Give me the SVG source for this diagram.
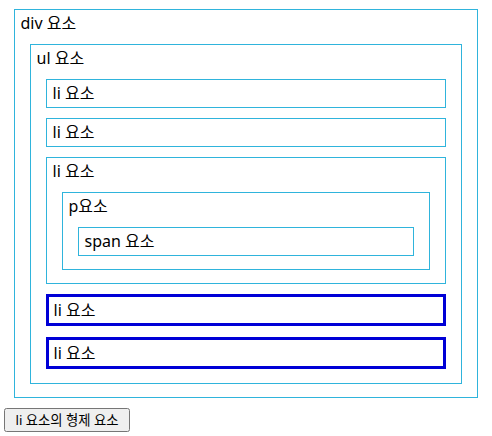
<svg xmlns="http://www.w3.org/2000/svg" width="492" height="436" viewBox="0 0 492 436">
<style>
.box{fill:none;stroke:#2fb4dc;stroke-width:1}
.sel{fill:none;stroke:#0000d6;stroke-width:3}
text{font-family:"Noto Sans","Noto Sans CJK KR",sans-serif;font-size:16px;fill:#000}
.btn{font-size:13.33px}
</style>
<rect width="492" height="436" fill="#fff"/>
<g id="div"><rect class="box" x="14.5" y="9.5" width="463" height="388"/><text x="20.5" y="29">div 요소</text></g>
<g id="ul"><rect class="box" x="30.5" y="44.5" width="431" height="339"/><text x="36.5" y="64">ul 요소</text></g>
<g id="li1"><rect class="box" x="46.5" y="79.5" width="399" height="28"/><text x="52.5" y="99">li 요소</text></g>
<g id="li2"><rect class="box" x="46.5" y="118.5" width="399" height="28"/><text x="52.5" y="138">li 요소</text></g>
<g id="li3"><rect class="box" x="46.5" y="157.5" width="399" height="126"/><text x="52.5" y="177">li 요소</text></g>
<g id="p"><rect class="box" x="62.5" y="192.5" width="367" height="77"/><text x="68.5" y="212">p요소</text></g>
<g id="span"><rect class="box" x="78.5" y="227.5" width="335" height="28"/><text x="84.5" y="247">span 요소</text></g>
<g id="li4"><rect class="sel" x="47.5" y="295.5" width="397" height="29"/><text x="53.5" y="316">li 요소</text></g>
<g id="li5"><rect class="sel" x="47.5" y="338.5" width="397" height="29"/><text x="53.5" y="359">li 요소</text></g>
<g id="button"><rect x="4.5" y="408.5" width="125" height="23" rx="2" fill="#efefef" stroke="#767676"/><text class="btn" x="67" y="425" text-anchor="middle">li 요소의 형제 요소</text></g>
<g id="connectors"></g>
</svg>
